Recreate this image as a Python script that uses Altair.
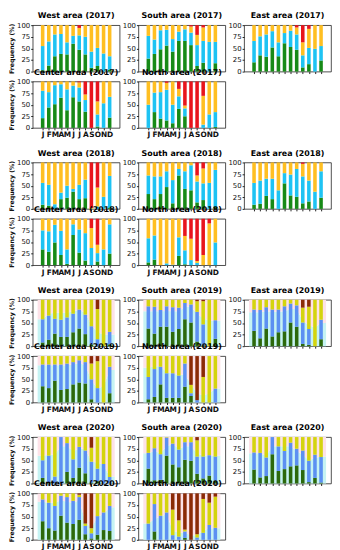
import altair as alt
import pandas as pd

MONTHS = ["J", "F", "M", "A", "M", "J", "J", "A", "S", "O", "N", "D"]
CATS_A = ["a1", "a2", "a3", "a4"]
CATS_B = ["b1", "b2", "b3", "b4"]
COLORS_A = ["#178a17", "#1ec3f3", "#ffbf22", "#e8151c"]
COLORS_B = ["#2c690c", "#5c90f2", "#d4d40e", "#8b2a06"]
BG_LOW = "#c6f3f3"
BG_HIGH = "#fde2e8"

# cumulative tops: (green, blue, yellow/orange); remainder up to 100 is red/brown
WEST_2017 = ([3, 13, 33, 38, 37, 60, 47, 37, 8, 12, 0, 4],
             [55, 65, 80, 81, 63, 77, 78, 75, 43, 51, 39, 33],
             [100, 100, 100, 100, 100, 100, 94, 100, 100, 100, 100, 100])
CENTER_2017 = ([21, 44, 51, 65, 38, 66, 57, 35, 0, 3, 0, 22],
               [80, 77, 92, 94, 83, 91, 87, 60, 0, 29, 53, 67],
               [100, 100, 100, 100, 100, 100, 98, 72, 0, 57, 100, 100])
SOUTH_2017 = ([28, 38, 48, 56, 43, 66, 66, 57, 12, 19, 0, 18],
              [77, 69, 89, 90, 70, 86, 91, 84, 57, 66, 64, 64],
              [100, 100, 100, 100, 100, 100, 100, 97, 79, 95, 100, 100])
NORTH_2017 = ([0, 34, 20, 16, 10, 41, 25, 0, 0, 0, 0, 2],
              [50, 76, 77, 82, 50, 68, 42, 0, 0, 7, 29, 34],
              [100, 100, 100, 97, 100, 84, 48, 0, 0, 69, 100, 100])
EAST_2017 = ([20, 35, 32, 52, 33, 61, 53, 47, 9, 16, 0, 24],
             [66, 76, 80, 87, 63, 83, 88, 80, 35, 51, 49, 55],
             [100, 100, 100, 100, 100, 100, 100, 95, 63, 92, 100, 100])

WEST_2018 = ([9, 7, 0, 21, 24, 37, 21, 23, 0, 0, 0, 2],
             [56, 52, 10, 35, 50, 43, 52, 63, 0, 5, 26, 71],
             [100, 100, 100, 100, 100, 100, 100, 100, 2, 46, 100, 100])
CENTER_2018 = ([34, 29, 49, 22, 3, 65, 27, 10, 0, 8, 0, 25],
               [75, 73, 87, 74, 34, 88, 77, 69, 37, 26, 34, 88],
               [100, 100, 100, 100, 100, 100, 100, 100, 80, 44, 100, 100])
SOUTH_2018 = ([32, 21, 32, 47, 12, 72, 43, 40, 14, 19, 0, 4],
              [72, 70, 70, 81, 62, 86, 81, 94, 59, 55, 56, 84],
              [100, 100, 100, 100, 100, 100, 100, 100, 72, 87, 100, 100])
NORTH_2018 = ([6, 12, 0, 0, 0, 20, 2, 0, 0, 0, 0, 0],
              [58, 64, 0, 4, 1, 60, 32, 11, 5, 0, 0, 49],
              [100, 100, 100, 100, 100, 100, 63, 57, 9, 22, 90, 100])
EAST_2018 = ([9, 11, 28, 21, 0, 55, 29, 26, 12, 16, 0, 24],
             [56, 61, 65, 65, 40, 77, 74, 86, 70, 61, 37, 81],
             [100, 100, 100, 100, 100, 100, 100, 100, 97, 100, 100, 100])

WEST_2019 = ([8, 14, 27, 20, 20, 30, 38, 26, 4, 0, 0, 4],
             [58, 66, 59, 57, 62, 70, 79, 68, 43, 15, 0, 31],
             [100, 100, 100, 100, 100, 100, 100, 100, 100, 80, 100, 100])
CENTER_2019 = ([35, 31, 47, 27, 29, 39, 43, 41, 7, 0, 0, 20],
               [82, 82, 82, 82, 84, 87, 91, 87, 50, 31, 0, 77],
               [100, 100, 100, 100, 100, 100, 100, 100, 84, 89, 100, 100])
SOUTH_2019 = ([38, 27, 42, 42, 31, 37, 58, 51, 10, 2, 0, 16],
              [86, 85, 78, 86, 84, 83, 93, 90, 74, 47, 0, 56],
              [100, 100, 100, 100, 100, 100, 100, 100, 97, 97, 100, 100])
NORTH_2019 = ([7, 12, 39, 10, 10, 10, 34, 14, 0, 0, 0, 0],
              [55, 72, 77, 63, 63, 58, 84, 20, 5, 0, 0, 30],
              [100, 100, 100, 100, 100, 100, 100, 38, 5, 55, 100, 100])
EAST_2019 = ([33, 17, 38, 21, 30, 32, 51, 42, 5, 3, 0, 15],
             [79, 78, 84, 79, 79, 86, 92, 88, 51, 37, 0, 57],
             [100, 100, 100, 100, 100, 100, 100, 100, 83, 85, 100, 100])

WEST_2020 = ([12, 3, 0, 0, 25, 12, 34, 22, 2, 5, 0, 0],
             [50, 60, 15, 100, 87, 52, 79, 71, 47, 32, 42, 14],
             [100, 100, 100, 100, 100, 100, 100, 100, 77, 100, 100, 100])
CENTER_2020 = ([40, 25, 20, 52, 37, 34, 43, 12, 3, 11, 21, 19],
               [87, 80, 73, 95, 92, 84, 92, 30, 14, 51, 59, 73],
               [100, 100, 100, 100, 100, 100, 97, 35, 25, 100, 100, 100])
SOUTH_2020 = ([32, 7, 8, 60, 41, 35, 51, 49, 21, 11, 17, 6],
              [66, 76, 63, 99, 86, 73, 89, 89, 58, 58, 61, 58],
              [100, 100, 100, 100, 100, 100, 100, 100, 93, 100, 100, 100])
NORTH_2020 = ([0, 18, 0, 0, 0, 0, 4, 0, 0, 0, 0, 0],
              [35, 77, 52, 59, 10, 7, 18, 0, 5, 15, 32, 26],
              [100, 100, 100, 100, 65, 42, 22, 0, 12, 88, 80, 93])
EAST_2020 = ([30, 13, 16, 63, 27, 31, 37, 39, 29, 3, 12, 2],
             [67, 66, 56, 100, 80, 70, 88, 75, 71, 49, 62, 57],
             [100, 100, 100, 100, 100, 100, 100, 100, 100, 100, 100, 100])

# background level (light cyan below, pink above) for 2019 / 2020
BG_WEST_2019 = [58, 70, 72, 72, 72, 75, 78, 72, 45, 30, 25, 25]
BG_CENTER_2019 = [80, 80, 80, 80, 80, 82, 85, 80, 48, 30, 35, 70]
BG_SOUTH_2019 = [75, 75, 75, 76, 75, 75, 85, 85, 70, 60, 55, 55]
BG_NORTH_2019 = [75, 78, 78, 65, 62, 60, 60, 40, 20, 15, 20, 30]
BG_EAST_2019 = [73, 73, 75, 74, 74, 75, 80, 80, 55, 45, 40, 50]
BG_WEST_2020 = [60, 62, 62, 80, 80, 70, 75, 75, 47, 45, 40, 15]
BG_CENTER_2020 = [82, 80, 80, 85, 82, 80, 85, 40, 25, 50, 55, 70]
BG_SOUTH_2020 = [65, 70, 65, 80, 85, 75, 80, 80, 65, 60, 60, 60]
BG_NORTH_2020 = [35, 45, 50, 55, 20, 15, 15, 10, 10, 20, 25, 25]
BG_EAST_2020 = [65, 65, 60, 80, 80, 80, 80, 70, 62, 50, 55, 58]

W, H = 88, 47
FILL_H = 15
XMIN, XMAX = -0.825, 11.825
FONT = "DejaVu Sans"
LABEL_EXPR = "[" + ",".join("'%s'" % m for m in MONTHS) + "][datum.value]"
COLOR_SCALE = alt.Scale(domain=CATS_A + CATS_B, range=COLORS_A + COLORS_B)


def axes(xlabels, ytitle):
    xaxis = alt.Axis(values=list(range(12)), labelExpr=LABEL_EXPR, labels=xlabels,
                     labelOverlap=False, title=None, grid=False, tickSize=2,
                     labelFontSize=7.5, labelFontWeight="bold", labelPadding=1,
                     labelFont=FONT)
    yaxis = alt.Axis(values=[0, 25, 50, 75, 100], grid=False, tickSize=2,
                     labelFontSize=7, labelPadding=1, labelFont=FONT, labelOverlap=False,
                     title="Frequency (%)" if ytitle else None,
                     titleFontSize=6.3, titleFontWeight="bold", titlePadding=2,
                     titleFont=FONT)
    return xaxis, yaxis


def panel(title, data, cats, bg=None, xlabels=False, ytitle=False):
    g, b, o = data
    rows = []
    for i in range(12):
        edges = [0, g[i], b[i], o[i], 100]
        for k, cat in enumerate(cats):
            if edges[k + 1] > edges[k]:
                rows.append({"m": i, "lo": edges[k], "hi": edges[k + 1], "cat": cat})
    df = pd.DataFrame(rows)
    xs = alt.Scale(domain=[XMIN, XMAX], nice=False, zero=False)
    ys = alt.Scale(domain=[0, 100], nice=False)
    xaxis, yaxis = axes(xlabels, ytitle)
    bars = alt.Chart(df).mark_bar(size=3.6).encode(
        x=alt.X("m:Q", scale=xs, axis=xaxis),
        y=alt.Y("lo:Q", scale=ys, axis=yaxis),
        y2="hi:Q",
        color=alt.Color("cat:N", scale=COLOR_SCALE, legend=None),
    )
    if bg is None:
        ch = bars
    else:
        bx = [XMIN] + list(range(12)) + [XMAX]
        bv = [bg[0]] + list(bg) + [bg[-1]]
        bdf = pd.DataFrame({"m": bx, "c": bv, "z": 0, "top": 100})
        low = alt.Chart(bdf).mark_area(color=BG_LOW).encode(
            x=alt.X("m:Q", scale=xs, axis=xaxis), y=alt.Y("z:Q", scale=ys, axis=yaxis), y2="c:Q")
        high = alt.Chart(bdf).mark_area(color=BG_HIGH).encode(
            x=alt.X("m:Q", scale=xs, axis=xaxis), y=alt.Y("c:Q", scale=ys, axis=yaxis), y2="top:Q")
        ch = alt.layer(low, high, bars)
    return ch.properties(
        width=W, height=H,
        title=alt.TitleParams(title, fontSize=8, fontWeight="bold", offset=1, font=FONT),
    )


def blank(h):
    d = pd.DataFrame({"a": [0]})
    return alt.Chart(d).mark_point(opacity=0).encode(
        x=alt.X("a:Q", axis=None), y=alt.Y("a:Q", axis=None)
    ).properties(width=W, height=h, view=alt.ViewBackground(strokeOpacity=0))


def group(year, sets, cats, bgs=None):
    west, south, east, center, north = sets
    bgs = bgs or [None] * 5
    return [
        panel("West area (%s)" % year, west, cats, bgs[0], False, True),
        panel("South area (%s)" % year, south, cats, bgs[1]),
        panel("East area (%s)" % year, east, cats, bgs[2]),
        panel("Center area (%s)" % year, center, cats, bgs[3], True, True),
        panel("North area (%s)" % year, north, cats, bgs[4], True),
        blank(H),
    ]


cells = []
cells += group("2017", [WEST_2017, SOUTH_2017, EAST_2017, CENTER_2017, NORTH_2017], CATS_A)
cells += [blank(FILL_H) for _ in range(3)]
cells += group("2018", [WEST_2018, SOUTH_2018, EAST_2018, CENTER_2018, NORTH_2018], CATS_A)
cells += [blank(FILL_H) for _ in range(3)]
cells += group("2019", [WEST_2019, SOUTH_2019, EAST_2019, CENTER_2019, NORTH_2019], CATS_B,
               [BG_WEST_2019, BG_SOUTH_2019, BG_EAST_2019, BG_CENTER_2019, BG_NORTH_2019])
cells += [blank(FILL_H) for _ in range(3)]
cells += group("2020", [WEST_2020, SOUTH_2020, EAST_2020, CENTER_2020, NORTH_2020], CATS_B,
               [BG_WEST_2020, BG_SOUTH_2020, BG_EAST_2020, BG_CENTER_2020, BG_NORTH_2020])

chart = alt.concat(*cells, columns=3, spacing=alt.RowColnumber(row=10, column=19),
                   bounds="flush").properties(
    padding={"left": 0, "top": 0, "right": 0, "bottom": 0}
).configure_view(stroke="#222222", strokeWidth=0.8).configure_axis(
    domain=False, tickColor="#222222", labelColor="#111111", titleColor="#111111"
)

chart.save("out.html", embed_options={"renderer": "svg", "actions": False})
